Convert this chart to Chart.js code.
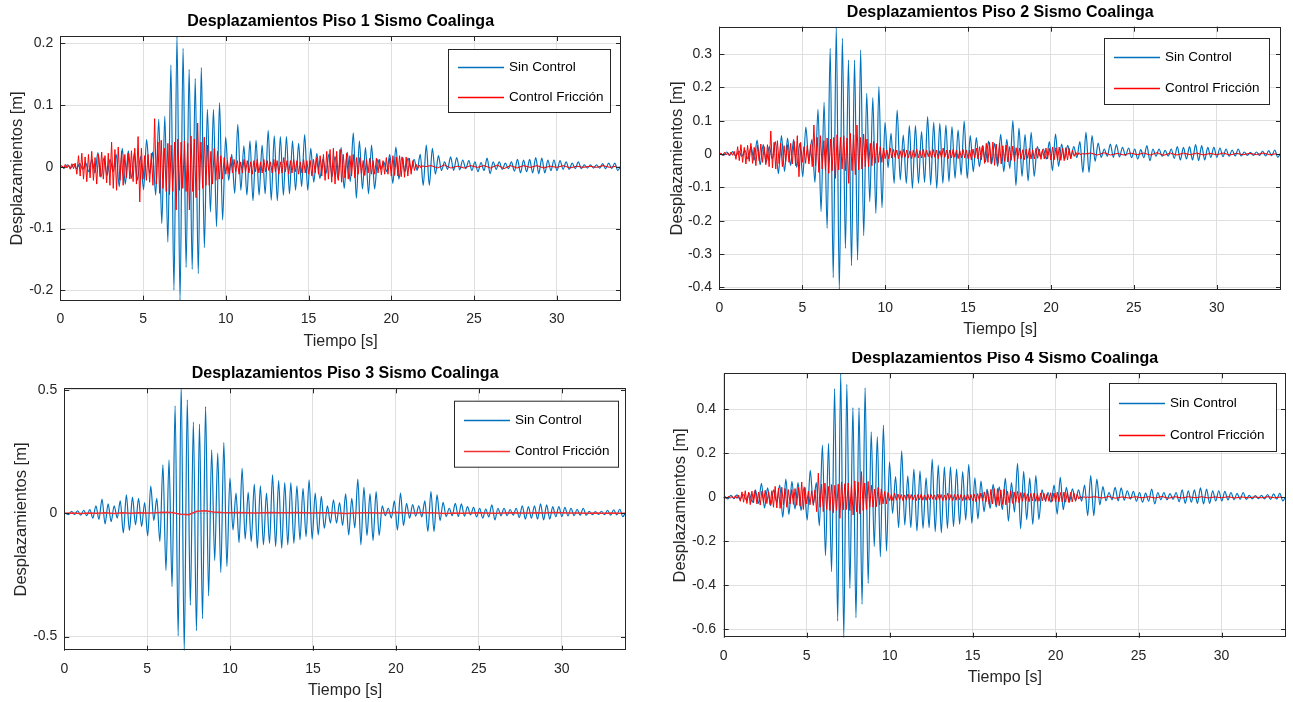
<!DOCTYPE html>
<html>
<head>
<meta charset="utf-8">
<script src="https://cdn.jsdelivr.net/npm/chart.js@4.4.1/dist/chart.umd.min.js"></script>
<style>
  body { margin: 0; background: #fff; width: 1293px; height: 702px; overflow: hidden; position: relative; }
  canvas { position: absolute; }
</style>
</head>
<body>
<canvas id="c1" width="640" height="351" style="left:0;top:0"></canvas>
<canvas id="c2" width="643" height="339" style="left:650px;top:0"></canvas>
<canvas id="c3" width="640" height="348" style="left:0;top:352px"></canvas>
<canvas id="c4" width="643" height="335" style="left:650px;top:352px"></canvas>
<script>
// --- DATA ---
// "Sin Control": one value per half cycle, time = t0Sin + i * dtSin [s]
const t0Sin = 0.07;
const dtSin = 0.1837;
// "Control Friccion": sampled every dtFric from 0 to 22 s, then a quiet tail every dtCola
const dtFric = 0.1;
const t0Cola = 22.4;
const dtCola = 0.4;
const dtFric3 = 0.5;

const xTicks = [0, 5, 10, 15, 20, 25, 30];

// Piso 1
const sin1 = [0,-0.002,0.003,-0.002,0.004,-0.003,0.005,-0.004,0.006,-0.008,
  0.012,-0.01,0.023,-0.017,0.015,-0.014,0.012,-0.008,0.02,-0.032,
  0.03,-0.028,0.026,-0.019,0.024,-0.022,0.017,-0.037,0.044,-0.012,
  0.024,-0.046,0.077,-0.092,0.082,-0.122,0.165,-0.2,0.212,-0.217,
  0.192,-0.163,0.158,-0.166,0.143,-0.173,0.161,-0.131,0.093,-0.073,
  0.093,-0.097,0.104,-0.086,0.048,-0.022,0.02,-0.043,0.069,-0.038,
  0.034,-0.046,0.042,-0.055,0.043,-0.046,0.035,-0.044,0.059,-0.054,
  0.05,-0.055,0.049,-0.046,0.049,-0.044,0.042,-0.038,0.038,-0.032,
  0.052,-0.038,0.03,-0.025,0.022,-0.019,0.013,-0.011,0.021,-0.016,
  0.017,-0.02,0.031,-0.035,0.024,-0.024,0.055,-0.051,0.042,-0.036,
  0.031,-0.044,0.035,-0.036,0.012,-0.004,0.008,-0.008,0.02,-0.027,
  0.032,-0.02,0.016,-0.008,0.014,-0.005,0.012,-0.006,0.02,-0.03,
  0.035,-0.03,0.03,-0.012,0.018,-0.006,0.008,-0.004,0.016,-0.006,
  0.015,-0.005,0.011,-0.003,0.01,-0.006,0.008,-0.008,0.007,-0.006,
  0.014,-0.011,0.008,-0.004,0.008,-0.004,0.006,-0.003,0.008,-0.007,
  0.012,-0.01,0.011,-0.008,0.012,-0.01,0.015,-0.011,0.014,-0.01,
  0.011,-0.006,0.011,-0.006,0.01,-0.004,0.008,-0.004,0.006,-0.003,
  0.008,-0.003,0.003,-0.002,0.003,-0.002,0.003,-0.002,0.005,-0.003,
  0.006,-0.003,0.006,-0.006,0.002];
const fric1 = [0,0.002,-0.003,0.004,-0.002,0.003,-0.004,0.005,-0.003,0.006,
  -0.012,0.018,-0.015,0.022,-0.02,0.016,-0.024,0.02,-0.018,0.025,
  -0.022,0.015,-0.028,0.02,-0.016,0.024,-0.02,0.018,-0.026,0.022,
  -0.03,0.04,-0.035,0.028,-0.038,0.032,-0.022,0.025,-0.03,0.02,
  -0.018,0.022,-0.02,0.026,-0.024,0.03,-0.028,0.049,-0.057,0.03,
  -0.02,0.018,-0.022,0.02,-0.025,0.022,-0.03,0.078,-0.028,0.04,
  -0.043,0.043,-0.035,0.03,-0.04,0.038,-0.045,0.035,-0.04,0.04,
  -0.07,0.045,-0.038,0.04,-0.035,0.042,-0.04,0.038,-0.07,0.05,
  -0.04,0.045,-0.05,0.071,-0.038,0.04,-0.035,0.048,-0.03,0.035,
  -0.03,0.025,-0.028,0.03,-0.022,0.025,-0.02,0.018,-0.02,0.015,
  -0.012,0.01,-0.012,0.015,-0.01,0.012,-0.008,0.01,-0.012,0.008,
  -0.01,0.012,-0.008,0.01,-0.01,0.008,-0.012,0.01,-0.008,0.012,
  -0.01,0.008,-0.01,0.012,-0.008,0.01,-0.006,0.008,-0.01,0.012,
  -0.008,0.01,-0.012,0.008,-0.01,0.015,-0.008,0.01,-0.012,0.01,
  -0.01,0.012,-0.008,0.01,-0.012,0.008,-0.01,0.012,-0.01,0.01,
  -0.012,0.01,-0.015,0.012,-0.01,0.015,-0.012,0.018,-0.015,0.02,
  -0.022,0.025,-0.02,0.028,-0.025,0.03,-0.028,0.025,-0.022,0.028,
  -0.025,0.02,-0.018,0.022,-0.02,0.018,-0.015,0.02,-0.018,0.015,
  -0.012,0.015,-0.012,0.01,-0.014,0.012,-0.01,0.014,-0.012,0.01,
  -0.012,0.014,-0.01,0.012,-0.013,0.01,-0.012,0.015,-0.012,0.014,
  -0.015,0.018,-0.014,0.016,-0.015,0.018,-0.016,0.015,-0.017,0.016,
  -0.015,0.014,-0.012,0.01,-0.006,0.004,-0.003,0.003,-0.002,0.002,
  0];
const fric1Cola = [0.002,-0.002,0.003,-0.002,0.001,-0.002,0.002,-0.001,0.002,-0.002,
  0.003,-0.003,0.002,-0.002,0.002,-0.001,0.002,-0.002,0.001,-0.001,
  0.002,-0.002,0.001,-0.001,0.001,-0.001,0.002,-0.001,0.001];

// Piso 2
const sin2 = [0,-0.004,0.006,-0.004,0.007,-0.006,0.009,-0.007,0.011,-0.015,
  0.022,-0.019,0.042,-0.032,0.028,-0.025,0.022,-0.015,0.037,-0.059,
  0.055,-0.052,0.048,-0.035,0.044,-0.04,0.032,-0.068,0.081,-0.022,
  0.044,-0.085,0.134,-0.173,0.155,-0.223,0.317,-0.371,0.382,-0.408,
  0.347,-0.283,0.282,-0.335,0.282,-0.318,0.312,-0.245,0.182,-0.143,
  0.169,-0.178,0.202,-0.161,0.095,-0.041,0.062,-0.088,0.132,-0.078,
  0.057,-0.088,0.085,-0.103,0.085,-0.088,0.067,-0.085,0.112,-0.093,
  0.095,-0.103,0.092,-0.088,0.087,-0.083,0.082,-0.073,0.072,-0.063,
  0.099,-0.073,0.055,-0.053,0.049,-0.038,0.025,-0.023,0.039,-0.03,
  0.032,-0.037,0.059,-0.053,0.044,-0.044,0.1,-0.095,0.078,-0.067,
  0.058,-0.081,0.065,-0.067,0.022,-0.007,0.015,-0.015,0.037,-0.05,
  0.06,-0.037,0.03,-0.015,0.026,-0.009,0.022,-0.011,0.037,-0.055,
  0.065,-0.055,0.055,-0.022,0.033,-0.01,0.015,-0.007,0.03,-0.01,
  0.028,-0.009,0.02,-0.005,0.018,-0.011,0.015,-0.015,0.013,-0.011,
  0.025,-0.02,0.015,-0.007,0.015,-0.007,0.011,-0.006,0.015,-0.013,
  0.022,-0.018,0.02,-0.015,0.022,-0.018,0.028,-0.02,0.025,-0.018,
  0.02,-0.01,0.02,-0.01,0.018,-0.008,0.015,-0.007,0.012,-0.006,
  0.015,-0.006,0.006,-0.004,0.005,-0.004,0.006,-0.004,0.009,-0.006,
  0.01,-0.005,0.012,-0.01,0.004];
const fric2 = [0,0.003,-0.004,0.005,-0.003,0.004,-0.005,0.006,-0.004,0.008,
  -0.016,0.022,-0.02,0.028,-0.025,0.02,-0.03,0.026,-0.022,0.032,
  -0.028,0.02,-0.035,0.026,-0.02,0.03,-0.025,0.022,-0.032,0.028,
  -0.038,0.069,-0.042,0.035,-0.045,0.04,-0.028,0.032,-0.038,0.025,
  -0.022,0.028,-0.025,0.032,-0.03,0.038,-0.035,0.055,-0.068,0.035,
  -0.025,0.022,-0.028,0.025,-0.03,0.028,-0.038,0.087,-0.035,0.05,
  -0.055,0.055,-0.045,0.04,-0.05,0.048,-0.058,0.045,-0.05,0.05,
  -0.073,0.058,-0.048,0.05,-0.045,0.055,-0.05,0.048,-0.088,0.062,
  -0.05,0.058,-0.062,0.087,-0.048,0.05,-0.045,0.06,-0.038,0.045,
  -0.038,0.032,-0.035,0.038,-0.028,0.032,-0.025,0.022,-0.025,0.018,
  -0.014,0.012,-0.014,0.018,-0.012,0.014,-0.01,0.012,-0.014,0.01,
  -0.012,0.014,-0.01,0.012,-0.012,0.01,-0.014,0.012,-0.01,0.014,
  -0.012,0.01,-0.012,0.014,-0.01,0.012,-0.008,0.01,-0.012,0.014,
  -0.01,0.012,-0.014,0.01,-0.012,0.018,-0.01,0.012,-0.014,0.012,
  -0.012,0.014,-0.01,0.012,-0.014,0.01,-0.012,0.014,-0.012,0.012,
  -0.014,0.012,-0.018,0.015,-0.012,0.018,-0.015,0.022,-0.018,0.025,
  -0.028,0.032,-0.025,0.035,-0.03,0.036,-0.034,0.03,-0.028,0.033,
  -0.03,0.025,-0.022,0.027,-0.024,0.022,-0.019,0.024,-0.022,0.019,
  -0.015,0.018,-0.015,0.013,-0.017,0.015,-0.013,0.017,-0.015,0.013,
  -0.015,0.017,-0.013,0.015,-0.016,0.013,-0.015,0.018,-0.015,0.017,
  -0.018,0.021,-0.017,0.019,-0.018,0.021,-0.019,0.018,-0.02,0.019,
  -0.018,0.017,-0.015,0.012,-0.007,0.005,-0.004,0.004,-0.003,0.002,
  0];
const fric2Cola = [0.003,-0.003,0.004,-0.003,0.002,-0.003,0.003,-0.002,0.003,-0.003,
  0.004,-0.004,0.003,-0.003,0.003,-0.002,0.003,-0.003,0.002,-0.002,
  0.003,-0.003,0.002,-0.002,0.002,-0.002,0.003,-0.002,0.001];

// Piso 3
const sin3 = [0,-0.006,0.008,-0.005,0.01,-0.008,0.012,-0.01,0.015,-0.02,
  0.03,-0.025,0.057,-0.043,0.038,-0.034,0.03,-0.02,0.05,-0.08,
  0.074,-0.07,0.065,-0.047,0.06,-0.054,0.043,-0.092,0.11,-0.03,
  0.06,-0.115,0.196,-0.232,0.216,-0.297,0.435,-0.497,0.507,-0.557,
  0.459,-0.373,0.369,-0.476,0.361,-0.427,0.432,-0.335,0.257,-0.192,
  0.243,-0.24,0.286,-0.216,0.142,-0.068,0.081,-0.119,0.182,-0.105,
  0.084,-0.115,0.118,-0.142,0.111,-0.128,0.081,-0.122,0.155,-0.135,
  0.132,-0.142,0.124,-0.128,0.124,-0.122,0.111,-0.108,0.101,-0.095,
  0.135,-0.105,0.081,-0.088,0.068,-0.061,0.03,-0.04,0.054,-0.04,
  0.043,-0.05,0.078,-0.088,0.06,-0.06,0.138,-0.128,0.105,-0.09,
  0.078,-0.11,0.088,-0.09,0.03,-0.01,0.02,-0.02,0.05,-0.068,
  0.081,-0.05,0.04,-0.02,0.035,-0.012,0.03,-0.015,0.05,-0.074,
  0.088,-0.074,0.074,-0.03,0.044,-0.014,0.02,-0.01,0.04,-0.014,
  0.038,-0.012,0.027,-0.007,0.024,-0.015,0.02,-0.02,0.017,-0.015,
  0.034,-0.027,0.02,-0.01,0.02,-0.01,0.015,-0.008,0.02,-0.018,
  0.03,-0.024,0.027,-0.02,0.03,-0.024,0.038,-0.027,0.034,-0.024,
  0.027,-0.014,0.027,-0.014,0.024,-0.011,0.02,-0.01,0.016,-0.008,
  0.02,-0.008,0.008,-0.006,0.007,-0.005,0.008,-0.006,0.012,-0.008,
  0.014,-0.007,0.016,-0.014,0.005];
// Piso 3 friction response, one value every dtFric3 from 0 s
const fric3 = [0,0.001,-0.001,0.001,0,0.002,-0.001,0.002,0,0.002,
  0.001,0.002,0.004,0.003,-0.004,-0.006,0.008,0.01,0.005,0.003,
  0.002,0.003,0.002,0.001,0.002,0.003,0.002,0.002,0.003,0.002,
  0.001,0.002,0.002,0.001,-0.001,0.001,0.002,0.002,0.001,0.002,
  0.003,0.002,0.001,0.002,0.002,0.001,-0.001,0.001,0,0.001,
  0.002,0.001,0,0.001,0.002,0.001,0.001,0.002,0.001,0.003,
  0.002,0.001,0.001,0,0.001,0,0.001,0,0];

// Piso 4
const sin4 = [0,-0.007,0.009,-0.006,0.011,-0.009,0.013,-0.011,0.017,-0.022,
  0.034,-0.028,0.064,-0.048,0.043,-0.038,0.034,-0.022,0.056,-0.09,
  0.083,-0.078,0.073,-0.053,0.067,-0.06,0.048,-0.103,0.123,-0.034,
  0.067,-0.129,0.238,-0.265,0.245,-0.338,0.495,-0.562,0.564,-0.638,
  0.514,-0.414,0.408,-0.547,0.408,-0.486,0.498,-0.391,0.298,-0.224,
  0.276,-0.27,0.329,-0.244,0.162,-0.073,0.094,-0.138,0.211,-0.126,
  0.098,-0.138,0.129,-0.153,0.12,-0.141,0.089,-0.138,0.174,-0.156,
  0.147,-0.161,0.139,-0.141,0.139,-0.133,0.129,-0.123,0.117,-0.103,
  0.15,-0.118,0.089,-0.098,0.074,-0.065,0.038,-0.05,0.059,-0.045,
  0.048,-0.056,0.086,-0.108,0.067,-0.067,0.155,-0.143,0.118,-0.101,
  0.087,-0.123,0.099,-0.101,0.034,-0.011,0.022,-0.022,0.056,-0.076,
  0.091,-0.056,0.045,-0.022,0.039,-0.013,0.034,-0.017,0.056,-0.083,
  0.099,-0.083,0.083,-0.034,0.049,-0.016,0.022,-0.011,0.045,-0.016,
  0.043,-0.013,0.03,-0.008,0.027,-0.017,0.022,-0.022,0.019,-0.017,
  0.038,-0.03,0.022,-0.011,0.022,-0.011,0.017,-0.009,0.022,-0.02,
  0.034,-0.027,0.03,-0.022,0.034,-0.027,0.043,-0.03,0.038,-0.027,
  0.03,-0.016,0.03,-0.016,0.027,-0.012,0.022,-0.011,0.018,-0.009,
  0.022,-0.009,0.009,-0.007,0.008,-0.006,0.009,-0.007,0.013,-0.009,
  0.016,-0.008,0.018,-0.016,0.006];
const fric4 = [0,0.004,-0.005,0.006,-0.004,0.005,-0.006,0.008,-0.005,0.01,
  -0.018,0.025,-0.022,0.03,-0.028,0.024,-0.033,0.028,-0.025,0.033,
  -0.03,0.024,-0.035,0.028,-0.024,0.032,-0.028,0.026,-0.033,0.03,
  -0.045,0.05,-0.048,0.042,-0.05,0.046,-0.035,0.04,-0.045,0.035,
  -0.03,0.035,-0.032,0.04,-0.036,0.045,-0.04,0.07,-0.055,0.045,
  -0.03,0.028,-0.034,0.03,-0.036,0.034,-0.065,0.11,-0.045,0.06,
  -0.065,0.065,-0.055,0.05,-0.06,0.058,-0.07,0.055,-0.06,0.06,
  -0.095,0.07,-0.058,0.062,-0.055,0.065,-0.06,0.058,-0.08,0.075,
  -0.065,0.07,-0.075,0.117,-0.06,0.065,-0.055,0.072,-0.045,0.055,
  -0.045,0.038,-0.042,0.045,-0.034,0.038,-0.03,0.027,-0.03,0.022,
  -0.015,0.013,-0.015,0.019,-0.013,0.015,-0.011,0.013,-0.015,0.011,
  -0.013,0.015,-0.011,0.013,-0.013,0.011,-0.015,0.013,-0.011,0.015,
  -0.013,0.011,-0.013,0.015,-0.011,0.013,-0.009,0.011,-0.013,0.015,
  -0.011,0.013,-0.015,0.011,-0.013,0.019,-0.011,0.013,-0.015,0.013,
  -0.013,0.015,-0.011,0.013,-0.015,0.011,-0.013,0.015,-0.013,0.013,
  -0.016,0.014,-0.02,0.017,-0.014,0.02,-0.017,0.025,-0.02,0.028,
  -0.032,0.036,-0.03,0.04,-0.034,0.04,-0.038,0.034,-0.032,0.037,
  -0.034,0.028,-0.025,0.03,-0.027,0.025,-0.022,0.027,-0.025,0.022,
  -0.018,0.021,-0.018,0.016,-0.02,0.018,-0.016,0.02,-0.018,0.016,
  -0.018,0.02,-0.016,0.018,-0.019,0.016,-0.018,0.021,-0.018,0.02,
  -0.021,0.024,-0.02,0.022,-0.021,0.024,-0.022,0.021,-0.023,0.022,
  -0.021,0.02,-0.018,0.014,-0.008,0.006,-0.005,0.004,-0.003,0.002,
  0];
const fric4Cola = [0.003,-0.003,0.004,-0.004,0.002,-0.003,0.003,-0.002,0.003,-0.003,
  0.004,-0.004,0.003,-0.003,0.003,-0.002,0.003,-0.003,0.002,-0.002,
  0.003,-0.003,0.002,-0.002,0.002,-0.002,0.003,-0.002,0.002];

// --- HELPERS ---
Chart.defaults.font.family = '"Liberation Sans", Arial, Helvetica, sans-serif';
Chart.defaults.color = '#262626';

const AZUL = '#0072BD';

function pts(vals, t0, dt) {
  return vals.map((v, i) => ({ x: t0 + i * dt, y: v }));
}

// box, inner ticks, title and legend drawn like the MATLAB figure
const matlabFrame = {
  id: 'matlabFrame',
  afterDatasetsDraw(chart, args, o) {
    const { ctx, chartArea: a, scales: { x, y } } = chart;
    ctx.save();
    ctx.strokeStyle = '#262626';
    ctx.lineWidth = 1;
    ctx.beginPath();
    x.ticks.forEach(t => {
      const px = Math.round(x.getPixelForValue(t.value)) + 0.5;
      ctx.moveTo(px, a.bottom); ctx.lineTo(px, a.bottom - 5);
      ctx.moveTo(px, a.top); ctx.lineTo(px, a.top + 5);
    });
    y.ticks.forEach(t => {
      const py = Math.round(y.getPixelForValue(t.value)) + 0.5;
      ctx.moveTo(a.left, py); ctx.lineTo(a.left + 5, py);
      ctx.moveTo(a.right, py); ctx.lineTo(a.right - 5, py);
    });
    ctx.stroke();
    ctx.strokeRect(Math.round(a.left) + 0.5, Math.round(a.top) + 0.5, Math.round(a.width) - 1, Math.round(a.height) - 1);

    ctx.fillStyle = '#000';
    ctx.font = 'bold 16px "Liberation Sans", Arial, sans-serif';
    ctx.textAlign = 'center';
    ctx.textBaseline = 'middle';
    ctx.fillText(o.title, (a.left + a.right) / 2, a.top - 14.5);

    const L = o.legend;
    ctx.fillStyle = '#fff';
    ctx.fillRect(L.x, L.y, L.w, L.h);
    ctx.strokeStyle = '#262626';
    ctx.lineWidth = 1;
    ctx.strokeRect(L.x + 0.5, L.y + 0.5, L.w, L.h);
    ctx.font = '13.5px "Liberation Sans", Arial, sans-serif';
    ctx.textAlign = 'left';
    const entries = [
      { label: 'Sin Control', color: AZUL, dy: L.h * 0.29 },
      { label: 'Control Fricción', color: o.red, dy: L.h * 0.76 }
    ];
    entries.forEach(e => {
      const ry = Math.round(L.y + e.dy) + 0.5;
      ctx.strokeStyle = e.color;
      ctx.lineWidth = 1.3;
      ctx.beginPath();
      ctx.moveTo(L.x + 10, ry); ctx.lineTo(L.x + 56, ry);
      ctx.stroke();
      ctx.fillStyle = '#000';
      ctx.fillText(e.label, L.x + 61, ry);
    });
    ctx.restore();
  }
};

function makeChart(id, cfg) {
  const fmt = v => String(Math.round(v * 10) / 10);
  const red = cfg.redColor || '#ff0000';
  new Chart(document.getElementById(id), {
    type: 'line',
    data: {
      datasets: [
        { label: 'Sin Control', data: cfg.sin, borderColor: AZUL, borderWidth: 1.2, cubicInterpolationMode: 'monotone', order: 2 },
        { label: 'Control Fricción', data: cfg.fric, borderColor: red, borderWidth: cfg.redWidth || 1, order: 1 }
      ]
    },
    options: {
      responsive: false,
      animation: false,
      parsing: false,
      elements: { point: { radius: 0 }, line: { tension: 0 } },
      layout: { padding: cfg.pad },
      plugins: {
        legend: { display: false },
        tooltip: { enabled: false },
        matlabFrame: { title: cfg.title, legend: cfg.legend, red: red }
      },
      scales: {
        x: {
          type: 'linear', min: 0, max: 33.88,
          afterBuildTicks: s => { s.ticks = xTicks.map(v => ({ value: v })); },
          ticks: { padding: 10, font: { size: 14 }, maxRotation: 0, autoSkip: false, callback: fmt },
          grid: { color: '#dfdfdf', drawTicks: false },
          border: { display: false },
          title: { display: true, text: 'Tiempo [s]', font: { size: 16 }, padding: 0 },
          afterFit: s => { s.height = cfg.xh; }
        },
        y: {
          type: 'linear', min: cfg.ymin, max: cfg.ymax,
          ticks: { stepSize: cfg.step, includeBounds: false, padding: cfg.ytp, font: { size: 14 }, callback: fmt },
          grid: { color: '#dfdfdf', drawTicks: false },
          border: { display: false },
          title: { display: true, text: 'Desplazamientos [m]', font: { size: 16.5 }, padding: { top: cfg.ytitle, bottom: 0 } },
          afterFit: s => { s.width = cfg.yw; }
        }
      }
    },
    plugins: [matlabFrame]
  });
}

makeChart('c1', {
  title: 'Desplazamientos Piso 1 Sismo Coalinga',
  sin: pts(sin1, t0Sin, dtSin),
  fric: pts(fric1, 0, dtFric).concat(pts(fric1Cola, t0Cola, dtCola)),
  ymin: -0.217, ymax: 0.212, step: 0.1,
  pad: { top: 36, right: 19, left: 0, bottom: 0 }, xh: 50.3, yw: 60.3, ytp: 7, ytitle: 7.4,
  legend: { x: 448, y: 49, w: 162, h: 63 }
});
makeChart('c2', {
  title: 'Desplazamientos Piso 2 Sismo Coalinga',
  sin: pts(sin2, t0Sin, dtSin),
  fric: pts(fric2, 0, dtFric).concat(pts(fric2Cola, t0Cola, dtCola)),
  ymin: -0.408, ymax: 0.382, step: 0.1,
  pad: { top: 26.7, right: 12, left: 0, bottom: 0 }, xh: 49, yw: 69.4, ytp: 7.4, ytitle: 17.4,
  legend: { x: 454, y: 38, w: 165, h: 66 }
});
makeChart('c3', {
  title: 'Desplazamientos Piso 3 Sismo Coalinga',
  sin: pts(sin3, t0Sin, dtSin),
  fric: pts(fric3, 0, dtFric3),
  redColor: '#f23030', redWidth: 1.6,
  ymin: -0.557, ymax: 0.506, step: 0.5,
  pad: { top: 36.3, right: 14, left: 0, bottom: 0 }, xh: 49.3, yw: 64.3, ytp: 7, ytitle: 11.4,
  legend: { x: 454, y: 48.7, w: 164, h: 66 }
});
makeChart('c4', {
  title: 'Desplazamientos Piso 4 Sismo Coalinga',
  sin: pts(sin4, t0Sin, dtSin),
  fric: pts(fric4, 0, dtFric).concat(pts(fric4Cola, t0Cola, dtCola)),
  ymin: -0.638, ymax: 0.564, step: 0.2,
  pad: { top: 21.3, right: 7, left: 0, bottom: 0 }, xh: 49.3, yw: 73.7, ytp: 7.7, ytitle: 20.4,
  legend: { x: 459, y: 31, w: 167, h: 68 }
});
</script>
</body>
</html>
